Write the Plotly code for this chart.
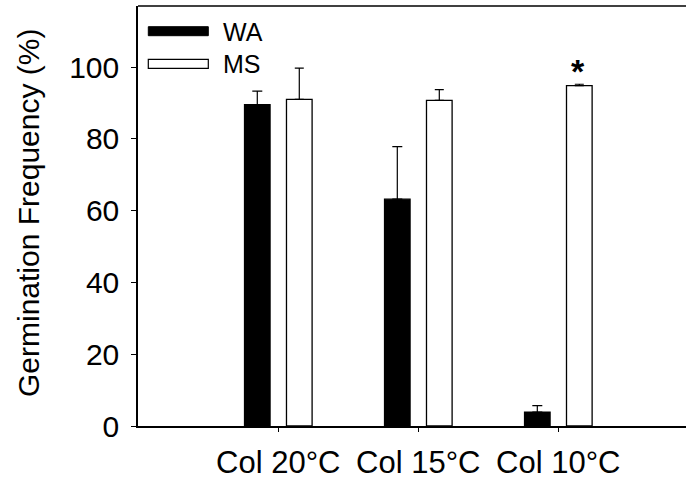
import plotly.graph_objects as go

# Germination of Col seeds on water agar (WA) vs MS medium at three temperatures
categories = ["Col 20°C", "Col 15°C", "Col 10°C"]
wa_values = [89.5, 63.2, 3.9]
wa_errors = [3.8, 14.6, 1.8]
ms_values = [91.0, 90.7, 94.8]
ms_errors = [8.7, 3.0, 0.4]
y_ticks = [0, 20, 40, 60, 80, 100]
significance_label = "*"
significant_index = 2

FONT = "Arial, Liberation Sans, sans-serif"
BAR_W = 0.183
HALF_SEP = 0.15

L, R, T, B = 138, 0, 6, 53
W, H = 686, 479
plot_w = W - L - R
plot_h = H - T - B


def px_x(px):
    return (px - L) / plot_w


def px_y(py):
    return (H - B - py) / plot_h


fig = go.Figure()

fig.add_trace(go.Bar(
    name="WA", x=categories, y=wa_values,
    width=BAR_W, offset=-HALF_SEP - BAR_W / 2,
    marker=dict(color="black", line=dict(color="black", width=1.2)),
    error_y=dict(type="data", symmetric=False, array=wa_errors,
                 arrayminus=[0] * len(wa_errors),
                 color="black", thickness=1.2, width=5),
    showlegend=False,
))
fig.add_trace(go.Bar(
    name="MS", x=categories, y=ms_values,
    width=BAR_W, offset=HALF_SEP - BAR_W / 2,
    marker=dict(color="white", line=dict(color="black", width=1.3)),
    error_y=dict(type="data", symmetric=False, array=ms_errors,
                 arrayminus=[0] * len(ms_errors),
                 color="black", thickness=1.2, width=4.5),
    showlegend=False,
))

# significance marker above the MS bar
fig.add_annotation(
    x=categories[significant_index],
    y=ms_values[significant_index] + ms_errors[significant_index],
    text="<b>" + significance_label + "</b>",
    showarrow=False, xshift=20, yshift=13, yanchor="middle",
    font=dict(family=FONT, size=34, color="black"),
)

# hand-drawn legend: long swatches with labels
fig.add_shape(type="rect", xref="paper", yref="paper",
              x0=px_x(148.3), x1=px_x(208.3), y0=px_y(35.7), y1=px_y(26.7),
              fillcolor="black", line=dict(color="black", width=1))
fig.add_shape(type="rect", xref="paper", yref="paper",
              x0=px_x(148.3), x1=px_x(208.3), y0=px_y(68.3), y1=px_y(59.3),
              fillcolor="white", line=dict(color="black", width=1.2))
fig.add_annotation(xref="paper", yref="paper", x=px_x(221), y=px_y(31.5),
                   text="WA", showarrow=False, xanchor="left", yanchor="middle",
                   font=dict(family=FONT, size=25, color="black"))
fig.add_annotation(xref="paper", yref="paper", x=px_x(221), y=px_y(64),
                   text="MS", showarrow=False, xanchor="left", yanchor="middle",
                   font=dict(family=FONT, size=25, color="black"))

# top frame line
fig.add_shape(type="line", xref="paper", yref="paper",
              x0=0, x1=1, y0=1, y1=1, line=dict(color="black", width=1.5))

# y-axis title
fig.add_annotation(xref="paper", yref="paper", x=px_x(28), y=px_y(213),
                   text="Germination Frequency (%)", textangle=-90,
                   showarrow=False, xanchor="center", yanchor="middle",
                   font=dict(family=FONT, size=30, color="black"))

fig.update_layout(
    width=W, height=H,
    margin=dict(l=L, r=R, t=T, b=B, pad=0),
    plot_bgcolor="white", paper_bgcolor="white",
    font=dict(family=FONT, size=30, color="black"),
    xaxis=dict(
        type="category", categoryorder="array", categoryarray=categories,
        range=[-1.002, 2.912],
        showline=True, linecolor="black", linewidth=1.5,
        ticks="outside", ticklen=4, tickwidth=1, tickcolor="black",
        showgrid=False, zeroline=False, ticklabelstandoff=4,
        tickfont=dict(family=FONT, size=31, color="black"),
    ),
    yaxis=dict(
        range=[0, 117], tickvals=y_ticks,
        showline=True, linecolor="black", linewidth=1.5,
        ticks="outside", ticklen=5, tickwidth=1, tickcolor="black",
        showgrid=False, zeroline=False, ticklabelstandoff=6,
        tickfont=dict(family=FONT, size=30, color="black"),
    ),
)

fig.write_html("out.html")
